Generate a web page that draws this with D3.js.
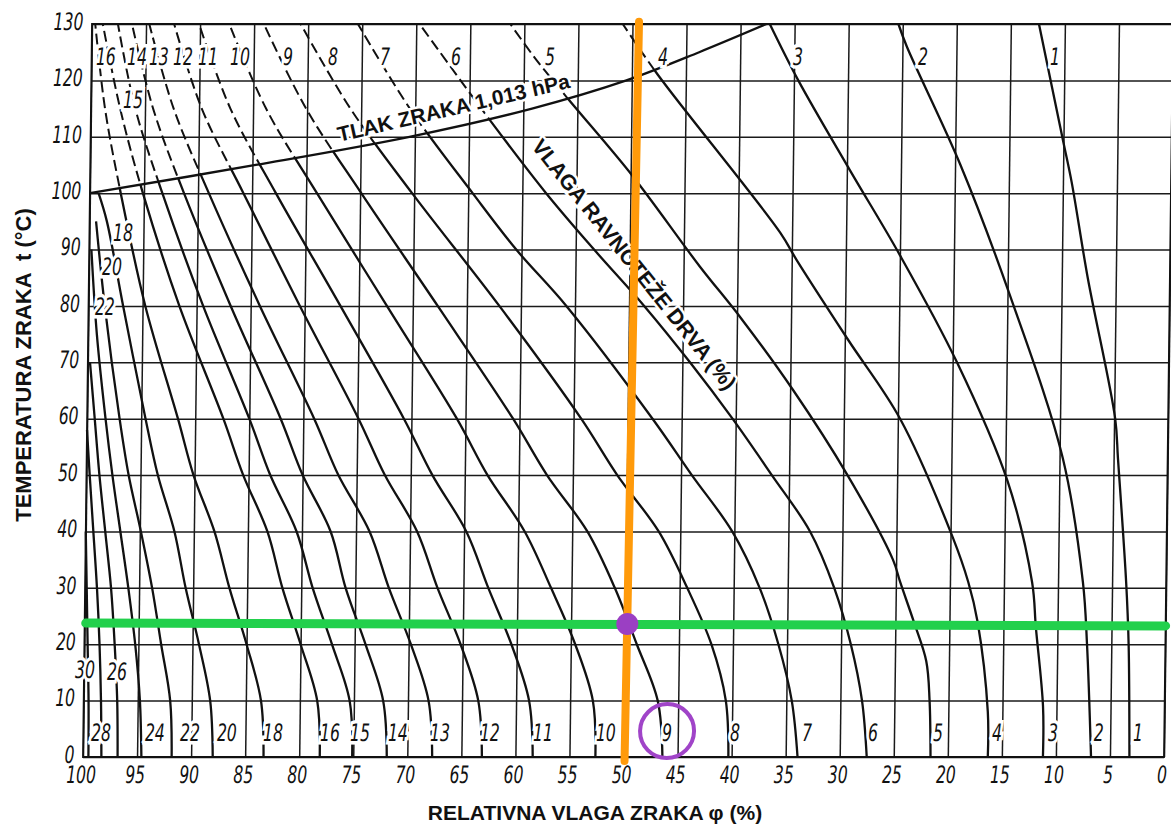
<!DOCTYPE html>
<html>
<head>
<meta charset="utf-8">
<script src="https://cdn.jsdelivr.net/npm/d3@7"></script>
<style>
  body { margin: 0; background: #fff; }
  svg { display: block; }
  .num { font-family: "DejaVu Sans Condensed", "DejaVu Sans", sans-serif; font-style: italic; font-size: 24px; fill: #111; }
  .title { font-family: "Liberation Sans", Arial, sans-serif; font-weight: bold; fill: #111; }
</style>
</head>
<body>
<svg id="chart"></svg>
<script>
// Axis ticks
const rhTicks = [100, 95, 90, 85, 80, 75, 70, 65, 60, 55, 50, 45, 40, 35, 30, 25, 20, 15, 10, 5, 0];
const tTicks = [0, 10, 20, 30, 40, 50, 60, 70, 80, 90, 100, 110, 120, 130];

// Air pressure line 1,013 hPa  [T, RH]
const pressureLine = [[100, 100], [105, 84.7], [110, 70.5], [115, 59.2], [120, 50.5], [125, 43.8], [130, 37.6]];

// Equilibrium moisture content curves, points as [T (°C), RH (%)]
const emc1 = [[0, 3.2], [20, 3.4], [31, 3.7], [53, 4.6], [60, 4.9], [85, 7.6], [102, 9.2], [109, 10.0], [130, 12.4]];
const emc2 = [[0, 6.75], [20, 7.25], [31, 7.7], [53, 9.7], [82, 14.8], [105, 19.5], [126, 24.6], [130, 25.4]];
const emc3 = [[0, 11.2], [9, 11.25], [23, 12.0], [31, 12.4], [49, 14.8], [70, 19.6], [89, 25.0], [104, 29.7], [120, 34.6], [130, 37.3]];
const emc4 = [[0, 16.3], [8, 16.35], [24, 17.4], [31, 18.3], [39, 19.8], [60, 24.8], [74, 29.7], [88, 34.5], [93, 36.1], [121, 47.6], [130, 50.9]];
const emc5 = [[0, 21.6], [10, 21.75], [17, 22.1], [24, 23.3], [31, 24.6], [35, 25.3], [50, 29.6], [65, 34.7], [78, 39.7], [87, 43.5], [103, 49.8], [117, 56.0], [124, 59.0], [130, 61.3]];
const emc6 = [[0, 27.5], [10, 28.0], [20, 29.1], [30, 30.7], [40, 33.0], [50, 36.6], [60, 40.3], [70, 44.3], [80, 48.6], [90, 53.3], [100, 57.8], [113, 63.1], [130, 69.7]];
const emc7 = [[0, 33.9], [10, 34.5], [20, 35.8], [30, 37.6], [40, 40.2], [50, 44.0], [60, 47.7], [80, 55.8], [90, 60.5], [100, 64.6], [115, 70.5], [130, 75.4]];
const emc8 = [[0, 40.3], [10, 40.6], [20, 42.0], [30, 44.3], [40, 47.0], [50, 50.9], [60, 54.3], [80, 62.0], [100, 70.2], [115, 76.0], [130, 80.7]];
const emc9 = [[0, 46.4], [10, 46.9], [20, 48.9], [30, 51.0], [40, 53.6], [50, 57.4], [60, 60.6], [80, 67.7], [100, 74.9], [115, 80.1], [130, 84.1]];
const emc10 = [[0, 52.6], [10, 52.9], [20, 54.6], [30, 56.9], [40, 59.4], [50, 62.9], [60, 65.8], [80, 72.4], [100, 79.0], [115, 83.8], [130, 87.3]];
const emc11 = [[0, 58.4], [10, 58.8], [20, 60.5], [30, 62.7], [40, 64.8], [50, 68.0], [60, 70.7], [80, 76.7], [100, 82.8], [115, 87.1], [130, 90.1]];
const emc12 = [[0, 63.1], [10, 63.5], [20, 65.2], [30, 67.4], [40, 69.35], [50, 72.4], [60, 74.9], [80, 80.45], [100, 85.8], [115, 89.75], [130, 92.4]];
const emc13 = [[0, 67.7], [10, 68.1], [20, 69.8], [30, 71.9], [40, 73.75], [50, 76.7], [60, 79.0], [80, 84.15], [100, 89.0], [115, 92.35], [130, 94.7]];
const emc14 = [[0, 71.9], [10, 72.3], [20, 74.0], [30, 75.9], [40, 77.35], [50, 80.0], [60, 82.1], [80, 86.85], [100, 91.3], [115, 94.25], [130, 96.3]];
const emc15 = [[0, 75.1], [10, 75.4], [20, 77.1], [30, 78.95], [40, 80.5], [50, 83.0], [60, 85.0], [80, 89.4], [100, 93.3], [115, 95.9], [130, 97.6]];
const emc16 = [[0, 78.1], [10, 78.4], [20, 80.0], [30, 81.75], [40, 83.2], [50, 85.5], [60, 87.4], [80, 91.6], [100, 95.1], [115, 97.3], [130, 99.0]];
const emc18 = [[0, 83.3], [10, 83.6], [20, 85.0], [30, 86.65], [40, 88.1], [50, 90.1], [60, 91.6], [80, 94.75], [100, 97.15], [115, 98.7], [130, 99.7]];
const emc20 = [[0, 88.0], [10, 88.3], [20, 89.4], [30, 90.7], [40, 91.8], [50, 93.4], [60, 94.6], [80, 96.8], [95, 98.4], [100, 99.2]];
const emc22 = [[0, 91.8], [10, 92.0], [20, 92.9], [30, 93.8], [40, 94.9], [50, 96.1], [60, 97.0], [80, 98.5], [95, 99.4]];
const emc24 = [[0, 94.6], [10, 94.8], [20, 95.3], [30, 96.0], [40, 96.8], [50, 97.6], [60, 98.3], [75, 99.2], [90, 99.8]];
const emc26 = [[0, 96.8], [10, 96.9], [20, 97.2], [30, 97.6], [40, 98.2], [50, 98.8], [60, 99.3], [70, 99.8]];
const emc28 = [[0, 98.3], [10, 98.4], [20, 98.6], [30, 98.9], [40, 99.3], [50, 99.7], [58, 100]];
const emc30 = [[0, 99.5], [10, 99.55], [20, 99.7], [30, 99.85], [40, 100]];

const emcSeries = [emc1, emc2, emc3, emc4, emc5, emc6, emc7, emc8, emc9, emc10, emc11, emc12,
                   emc13, emc14, emc15, emc16, emc18, emc20, emc22, emc24, emc26, emc28, emc30];

// Curve labels: [text, RH, T]
const labelsBottom = [["28", 98.36, 4.3], ["24", 93.37, 4.3], ["22", 90.13, 4.3], ["20", 86.71, 4.3], ["18", 82.45, 4.3],
  ["16", 77.18, 4.3], ["15", 74.40, 4.3], ["14", 70.89, 4.3], ["13", 67.0, 4.3], ["12", 62.38, 4.3], ["11", 57.47, 4.3],
  ["10", 51.65, 4.3], ["9", 46.01, 4.3], ["8", 39.72, 4.3], ["7", 33.06, 4.3], ["6", 26.95, 4.3], ["5", 20.94, 4.3],
  ["4", 15.48, 4.3], ["3", 10.30, 4.3], ["2", 6.05, 4.3], ["1", 2.44, 4.3], ["30", 99.91, 15.4], ["26", 96.95, 15.1]];
const labelsTop = [["16", 98.67, 124.2], ["14", 95.80, 124.2], ["13", 93.77, 124.2], ["12", 91.54, 124.2], ["11", 89.23, 124.2],
  ["10", 86.27, 124.2], ["9", 81.83, 124.2], ["8", 77.67, 124.2], ["7", 72.86, 124.2], ["6", 66.29, 124.2],
  ["5", 57.59, 124.2], ["4", 47.14, 124.2], ["3", 34.65, 124.2], ["2", 23.09, 124.2], ["1", 10.88, 124.2],
  ["15", 96.12, 116.5], ["18", 96.89, 92.9], ["20", 97.87, 86.9], ["22", 98.48, 79.8]];

// Reading example: [T, RH]
const readRH = [[130.4, 49.4], [-0.7, 49.9]];
const readT = [[23.75, 99.9], [23.25, 0]];
const readPoint = [23.6, 49.8];
const readLabel = [4.6, 46.0];

const W = 1171, H = 825;
const narrow = 0.72;   // hand lettering is condensed
const svg = d3.select("#chart").attr("width", W).attr("height", H);

const x = d3.scaleLinear().domain([100, 0]).range([83, 1164]);
const y = d3.scaleLinear().domain([0, 130]).range([757, 24]);

// the scanned chart leans slightly to the right towards the top
const shear = 9 / 733;
const plot = svg.append("g")
  .attr("transform", `translate(${shear * y(0)},0) skewX(${-Math.atan(shear) * 180 / Math.PI})`);

// grid + tick labels
const xAxis = plot.append("g")
  .attr("transform", `translate(0,${y(0)})`)
  .call(d3.axisBottom(x).tickValues(rhTicks).tickSize(-(y(0) - y(130))).tickPadding(9).tickFormat(d3.format("d")));
const yAxis = plot.append("g")
  .attr("transform", `translate(${x(100)},0)`)
  .call(d3.axisLeft(y).tickValues(tTicks).tickSize(-(x(0) - x(100))).tickPadding(12).tickFormat(d3.format("d")));
[xAxis, yAxis].forEach(a => {
  a.select(".domain").remove();
  a.selectAll("line").attr("stroke", "#1a1a1a").attr("stroke-width", 1.5);
  a.selectAll("text").attr("class", "num").attr("transform", `scale(${narrow},1)`);
});
xAxis.selectAll("text").attr("dx", -3);
yAxis.selectAll("text").attr("dy", "0.22em");

// frame
plot.append("rect")
  .attr("x", x(100)).attr("y", y(130))
  .attr("width", x(0) - x(100)).attr("height", y(0) - y(130))
  .attr("fill", "none").attr("stroke", "#111").attr("stroke-width", 1.8);

const line = d3.line().x(d => x(d[1])).y(d => y(d[0])).curve(d3.curveCatmullRom.alpha(0.5));
const pressurePath = line(pressureLine);

// clip regions above / below the pressure line
const defs = svg.append("defs");
defs.append("clipPath").attr("id", "above").attr("clipPathUnits", "userSpaceOnUse")
  .append("path")
  .attr("d", `${pressurePath}L${x(30)},${y(136)}L${x(106)},${y(136)}L${x(106)},${y(100)}Z`);
defs.append("clipPath").attr("id", "below").attr("clipPathUnits", "userSpaceOnUse")
  .append("path")
  .attr("d", `${pressurePath}L${x(30)},${y(136)}L${x(-6)},${y(136)}L${x(-6)},${y(-6)}L${x(106)},${y(-6)}L${x(106)},${y(100)}Z`);

const curves = plot.append("g").attr("fill", "none").attr("stroke", "#111");
curves.selectAll("path.solid")
  .data(emcSeries).join("path")
  .attr("class", "solid")
  .attr("d", line)
  .attr("stroke-width", 2.3)
  .attr("clip-path", "url(#below)");
curves.selectAll("path.dash")
  .data(emcSeries).join("path")
  .attr("class", "dash")
  .attr("d", line)
  .attr("stroke-width", 2)
  .attr("stroke-dasharray", "11,5")
  .attr("clip-path", "url(#above)");

// pressure line
curves.append("path").attr("d", pressurePath).attr("stroke-width", 2.3);

// curve labels with a white halo that breaks the lines behind them
plot.append("g").selectAll("text")
  .data(labelsBottom.concat(labelsTop)).join("text")
  .attr("class", "num")
  .attr("transform", d => `translate(${x(d[1])},${y(d[2])}) scale(${narrow},1)`)
  .attr("text-anchor", "middle").attr("dominant-baseline", "central")
  .attr("stroke", "#fff").attr("stroke-width", 7).attr("paint-order", "stroke")
  .text(d => d[0]);

// annotation texts
const tlak = [113.9, 66.3], vlaga = [87.3, 49.6];
plot.append("text").attr("class", "title")
  .attr("transform", `translate(${x(tlak[1])},${y(tlak[0])}) rotate(-13.2)`)
  .attr("text-anchor", "middle").attr("font-size", 21)
  .attr("stroke", "#fff").attr("stroke-width", 5).attr("paint-order", "stroke")
  .text("TLAK ZRAKA 1,013 hPa");
plot.append("text").attr("class", "title")
  .attr("transform", `translate(${x(vlaga[1])},${y(vlaga[0])}) rotate(51)`)
  .attr("text-anchor", "middle").attr("dominant-baseline", "central").attr("font-size", 21.5)
  .attr("stroke", "#fff").attr("stroke-width", 5).attr("paint-order", "stroke")
  .text("VLAGA RAVNOTEŽE DRVA (%)");

// reading example
const marks = plot.append("g");
marks.append("path").attr("d", line(readT))
  .attr("stroke", "#22d04c").attr("stroke-width", 9).attr("stroke-linecap", "round").attr("fill", "none");
marks.append("path").attr("d", line(readRH))
  .attr("stroke", "#ff9a0a").attr("stroke-width", 8).attr("stroke-linecap", "round").attr("fill", "none");
marks.append("circle").attr("cx", x(readPoint[1])).attr("cy", y(readPoint[0])).attr("r", 11).attr("fill", "#9b3fc3");
marks.append("circle").attr("cx", x(readLabel[1])).attr("cy", y(readLabel[0])).attr("r", 27)
  .attr("fill", "none").attr("stroke", "#a044c8").attr("stroke-width", 4);

// axis titles
svg.append("text").attr("class", "title")
  .attr("x", 595).attr("y", 820).attr("text-anchor", "middle").attr("font-size", 21)
  .text("RELATIVNA VLAGA ZRAKA φ (%)");
svg.append("text").attr("class", "title")
  .attr("transform", "translate(31,365) rotate(-90)")
  .attr("text-anchor", "middle").attr("font-size", 22)
  .attr("xml:space", "preserve")
  .text("TEMPERATURA ZRAKA  t (°C)");
</script>
</body>
</html>
